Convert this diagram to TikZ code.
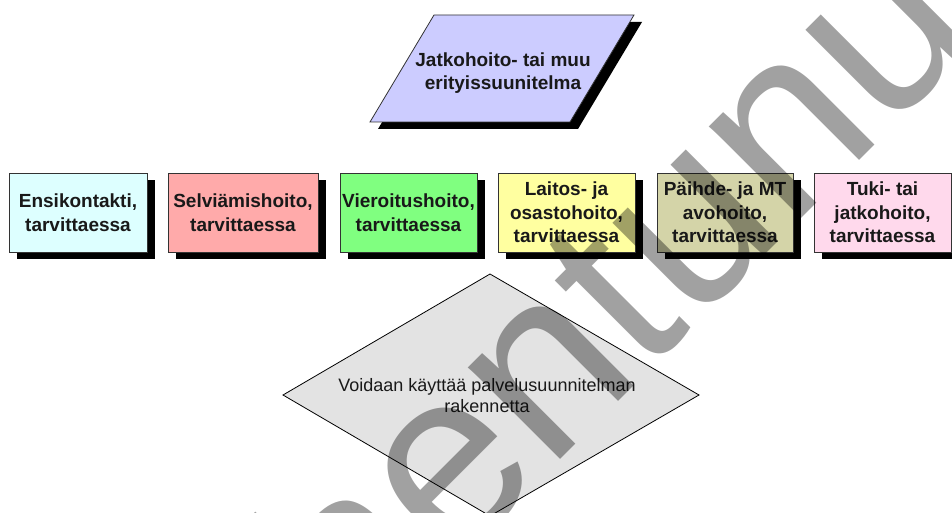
\documentclass[tikz,border=0pt]{standalone}
\usepackage{fontspec}
\setmainfont{Liberation Sans}
\usetikzlibrary{shadows}
\definecolor{cEnsi}{RGB}{221,255,255}
\definecolor{cSelv}{RGB}{255,170,170}
\definecolor{cVier}{RGB}{128,255,128}
\definecolor{cLait}{RGB}{255,255,160}
\definecolor{cPaih}{RGB}{212,212,168}
\definecolor{cTuki}{RGB}{255,217,236}
\definecolor{cJatk}{RGB}{204,204,255}
\definecolor{cVoid}{RGB}{227,227,227}
\definecolor{cEdge}{RGB}{51,51,51}
\begin{document}
\begin{tikzpicture}[x=1pt,y=-1pt,
  boxfont/.style={font=\fontsize{19}{23.5}\selectfont\bfseries},
  procbox/.style={boxfont, draw=cEdge, line width=0.8pt, minimum height=79pt,
    inner sep=0pt, align=center, text=black!90,
    drop shadow={shadow xshift=8pt, shadow yshift=-7pt, fill=black, opacity=1}},
  plaintext/.style={inner sep=0pt, align=center, text=black!90}]
\fill[white] (0,0) rectangle (952,513);
\useasboundingbox (0,0) rectangle (952,513);

% top parallelogram
\fill[black] (442,22) -- (642,22) -- (578,129) -- (378,129) -- cycle;
\filldraw[fill=cJatk, draw=cEdge, line width=0.8pt]
  (434,15) -- (634,15) -- (570,122) -- (370,122) -- cycle;
\node[plaintext, boxfont] (jatko) at (503,73) {Jatkohoito- tai muu\\erityissuunitelma};

% row of boxes
\node[procbox, fill=cEnsi, minimum width=138pt] (ensi) at (78,212.5) {Ensikontakti,\\tarvittaessa};
\node[procbox, fill=cSelv, minimum width=150pt] (selv) at (243,212.5) {Selviämishoito,\\tarvittaessa};
\node[procbox, fill=cVier, minimum width=137pt] (vier) at (408.5,212.5) {Vieroitushoito,\\tarvittaessa};
\node[procbox, fill=cLait, minimum width=137pt] (lait) at (566.5,212.5) {Laitos- ja\\osastohoito,\\tarvittaessa};
\node[procbox, fill=cPaih, minimum width=136pt] (paih) at (725,212.5) {Päihde- ja MT\\avohoito,\\tarvittaessa};
\node[procbox, fill=cTuki, minimum width=137pt] (tuki) at (882.5,212.5) {Tuki- tai\\jatkohoito,\\tarvittaessa};

% diamond
\filldraw[fill=cVoid, draw=black, line width=0.8pt]
  (490,274) -- (699,395) -- (490,516) -- (283,395) -- cycle;
\node[plaintext, font=\fontsize{18}{21}\selectfont] (voi) at (487,396)
  {Voidaan käyttää palvelusuunnitelman\\rakennetta};

% watermark
\node[rotate=45, anchor=base west, inner sep=0pt, text=black, text opacity=0.37,
  font=\fontsize{246}{246}\selectfont] (wm) at (57.9,962.1) {Vanhentunut};
\end{tikzpicture}
\end{document}
